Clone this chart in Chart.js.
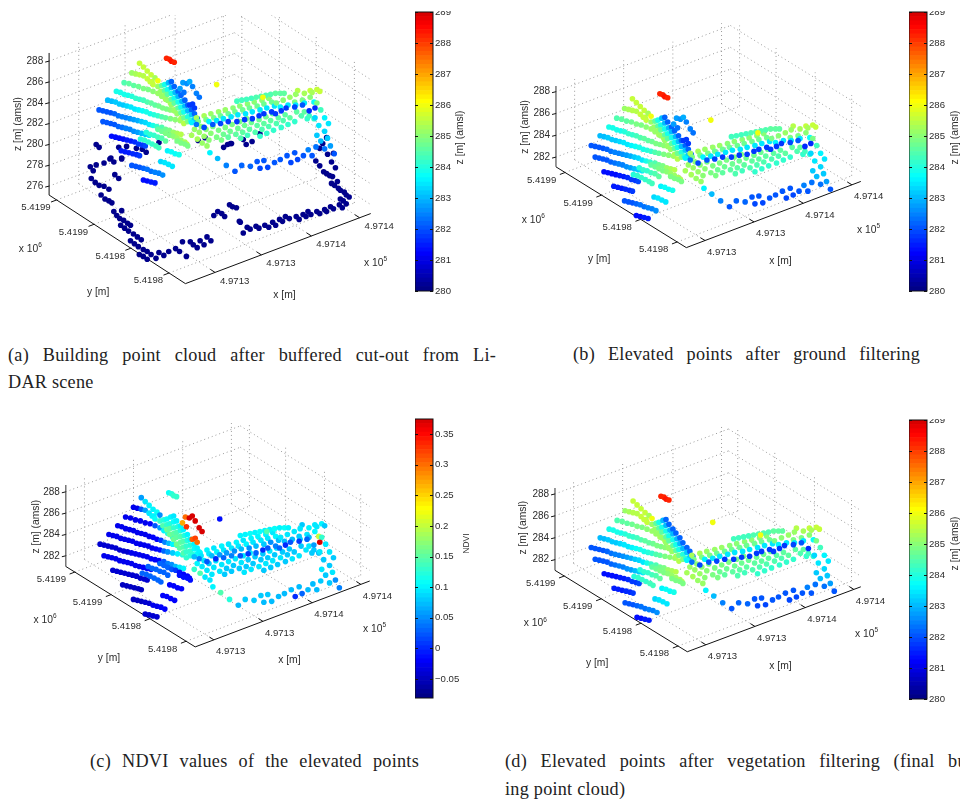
<!DOCTYPE html>
<html>
<head>
<meta charset="utf-8">
<script src="https://cdn.jsdelivr.net/npm/chart.js@4"></script>
<style>
  html, body { margin: 0; padding: 0; background: #fff; overflow: hidden; width: 960px; height: 802px; }
  .box { position: absolute; overflow: hidden; }
  canvas { position: absolute; display: block; }
  .cap { position: absolute; font: 18.2px/20px "Liberation Serif", "Times New Roman", serif; letter-spacing: 0.25px; color: #222; white-space: nowrap; }
  .just { white-space: normal; text-align: justify; text-align-last: justify; }
</style>
</head>
<body>
<div class="cap just" style="left:8px;top:345px;width:488px">(a) Building point cloud after buffered cut-out from Li-</div>
<div class="cap" style="left:8px;top:372px">DAR scene</div>
<div class="cap just" style="left:573px;top:344px;width:347px">(b) Elevated points after ground filtering</div>
<div class="cap just" style="left:90px;top:751px;width:329px">(c) NDVI values of the elevated points</div>
<div class="cap just" style="left:505px;top:751px;width:488px">(d) Elevated points after vegetation filtering (final build-</div>
<div class="cap" style="left:505px;top:779px">ing point cloud)</div>
<script>
// point cloud, one line per roof strip
// cloudX / cloudY are positions on the view plane, cloudZ height in m, cloudNdvi the NDVI value
const cloudX = [
  631,635,639,643,647,650,644,
  623,627,631,635,639,642,645,
  615,620,625,630,635,640,645,650,654,658,663,
  607,611,615,619,623,627,631,635,639,643,647,651,655,659,663,667,
  598,602,606,610,614,618,622,626,630,634,638,642,646,650,654,658,663,668,673,
  589,593,597,601,605,609,613,617,621,625,629,633,637,641,645,649,654,658,662,666,670,674,
  593,597,601,605,609,613,617,621,625,629,633,637,641,
  650,654,658,662,666,670,674,678,680,
  638,642,646,650,654,658,
  670,674,678,681,
  602,606,610,614,618,622,626,630,634,637,
  632,636,640,644,648,651,
  612,616,620,624,628,631,
  660,664,668,672,
  623,627,631,635,639,643,647,651,655,
  653,657,661,665,
  635,639,643,647,
  659,662,664,667,
  711,
  650,654,657,661,664, 653,657,660,664,667, 657,660,664,668,671,
  660,664,667,671,674, 664,667,671,675,678, 667,671,674,678,681,
  670,674,677,681,685, 674,677,681,685,688, 677,681,684,688,691,
  685,691,696,701, 688,693,698,703, 695,700,705,711,716, 707,713,718,723,
  720,725,731,736, 727,733,738,743, 735,740,745,751,756, 742,747,753,758,763,
  755,760,765,770, 762,767,773,778, 769,775,780,785, 782,787,792, 794,799,805, 802,807,812,
  690,698,705,713,720,728,735,743,750,758,765,
  692,700,708,715,723,730,738,745,753,760,768,
  685,703,711,718,726,733,741,748,756,763,771,
  795,808,815,818, 787,793,802,810, 773,780,792,800,808, 777,785,793,802,812,
  732,737,742,747,752,757,762,767,772,777,781,759,
  690,698,707,715,723,732,740,748,755,760,768,772,778,783,792,800,807,
  815,819,823,827,813,817,823,815,819,826,829,806,814,823,833,792,784,801,810,795,788,777,771,760,753,764,756,746,737,730,721,712,704
];
const cloudY = [
  97,101,105,109,112,115,116,
  107,108,109,110,113,116,119,
  117,118,120,121,123,124,126,128,131,134,138,
  126,127,129,130,131,133,134,135,137,138,140,141,143,144,145,146,
  135,136,137,139,140,141,142,144,145,146,147,149,150,151,152,153,154,155,156,
  145,146,147,148,149,151,152,153,154,155,156,157,158,160,161,162,163,165,166,168,169,170,
  157,158,159,160,162,163,164,165,167,168,169,170,171,
  165,167,169,171,172,174,176,178,180,
  168,170,171,173,174,177,
  177,179,180,182,
  172,173,174,175,176,177,178,180,181,182,
  175,176,178,180,182,184,
  187,188,189,190,191,192,
  187,188,190,191,
  202,203,204,205,206,208,209,210,212,
  198,199,201,203,
  217,218,219,220,
  92,93,95,96,
  119,
  121,120,119,117,116, 126,125,124,122,121, 130,129,128,127,126,
  135,134,133,131,130, 140,138,137,136,135, 145,143,142,141,140,
  149,148,147,146,145, 154,153,152,150,149, 159,157,156,155,154,
  171,175,179,182, 165,168,172,176, 162,165,169,173,176, 162,166,170,173,
  163,167,170,174, 160,164,168,171, 157,161,165,168,172, 154,158,161,165,169,
  155,159,162,166, 152,156,159,163, 149,153,156,160, 150,153,157, 147,151,154, 147,151,154,
  153,151,149,147,145,143,141,139,137,135,133,
  157,155,153,151,149,147,145,143,141,139,137,
  158,157,156,154,152,150,149,147,145,143,141,
  125,125,124,126, 132,129,128,127, 138,135,137,135,132, 142,140,140,138,137,
  136,135,134,133,132,131,130,129,128,128,128,132,
  160,163,160,159,157,157,155,154,151,149,147,149,146,143,142,140,146,
  138,145,153,159,153,161,167,171,177,174,182,186,183,185,190,189,192,192,192,196,199,196,199,197,198,204,205,203,202,208,202,195,189
];
const cloudZ = [
  285.5,285.5,285.6,285.6,285.3,286.0,285.4,
  285.2,285.3,285.4,285.4,285.5,285.5,285.5,
  284.4,284.5,284.6,284.7,284.8,284.9,285.0,285.1,285.2,285.3,285.4,
  283.8,283.8,283.9,283.9,284.0,284.1,284.2,284.3,284.4,284.5,284.6,284.7,284.8,284.9,285.0,285.1,
  283.0,283.0,283.1,283.1,283.2,283.3,283.4,283.5,283.6,283.7,283.8,283.9,284.0,284.2,284.4,284.6,284.8,285.0,285.1,
  282.0,282.0,282.1,282.1,282.2,282.3,282.4,282.5,282.6,282.8,282.9,283.1,283.3,283.5,283.8,284.1,284.4,284.7,284.9,285.1,285.3,285.4,
  282.0,282.0,282.1,282.1,282.2,282.3,282.4,282.5,282.6,282.8,283.0,283.2,283.4,
  284.6,284.7,284.8,284.9,285.0,285.1,285.2,285.3,285.4,
  284.0,284.1,284.2,284.3,284.4,284.5,
  284.8,284.8,284.9,284.9,
  281.3,281.3,281.4,281.4,281.5,281.5,281.6,281.7,281.8,281.9,
  284.0,284.1,284.2,284.2,284.3,284.3,
  281.5,281.5,281.5,281.6,281.6,281.7,
  283.6,283.7,283.7,283.8,
  282.0,282.0,282.1,282.2,282.3,282.3,282.4,282.5,282.6,
  283.3,283.4,283.4,283.5,
  281.4,281.4,281.5,281.5,
  288.2,288.2,288.3,288.2,
  286.0,
  285.2,284.6,283.9,283.0,282.2, 285.2,284.6,283.9,283.0,282.2, 285.2,284.6,283.9,283.0,282.2,
  285.2,284.6,283.9,283.0,282.2, 285.2,284.6,283.9,283.0,282.2, 285.2,284.6,283.9,283.0,282.2,
  285.2,284.6,283.9,283.0,282.2, 285.3,284.7,284.0,283.1,282.2, 285.4,284.8,284.1,283.2,282.3,
  285.3,285.3,285.2,285.2, 285.2,285.1,285.1,285.0, 285.0,285.0,285.0,284.9,284.8, 284.9,284.8,284.7,284.6,
  284.8,284.7,284.6,284.4, 284.8,284.7,284.5,284.3, 284.8,284.7,284.6,284.4,284.2, 284.8,284.7,284.6,284.4,284.2,
  284.7,284.6,284.4,284.2, 284.7,284.6,284.4,284.2, 284.7,284.6,284.4,284.2, 284.6,284.5,284.2, 284.6,284.4,284.2, 284.5,284.3,284.1,
  285.3,285.3,285.2,285.1,285.1,285.0,285.0,285.0,285.0,285.0,285.0,
  284.8,284.8,284.8,284.7,284.7,284.7,284.7,284.7,284.7,284.7,284.7,
  283.6,283.6,283.5,283.5,283.4,283.4,283.4,283.4,283.5,283.5,283.5,
  285.4,285.5,285.5,285.5, 285.2,285.2,285.3,285.3, 284.9,285.0,284.8,284.9,285.0, 283.6,283.5,283.4,283.5,283.7,
  284.3,284.3,284.3,284.3,284.4,284.4,284.4,284.4,284.5,284.5,284.5,286.0,
  282.3,281.9,282.0,281.9,281.8,281.8,281.8,281.7,281.8,281.7,281.8,281.7,281.8,281.8,281.9,282.0,281.6,
  284.8,284.3,283.6,283.5,283.3,283.4,283.3,283.1,283.0,283.2,282.8,282.4,282.3,282.3,282.0,282.1,282.0,282.1,282.1,281.9,281.9,282.0,282.0,282.0,282.0,281.9,281.9,282.2,282.2,282.1,282.5,283.0,283.6
];
const cloudNdvi = [
  0.06,0.09,0.10,0.10,0.11,0.05,0.10,
  -0.03,-0.03,0.02,0.06,0.09,0.10,0.11,
  -0.03,-0.03,-0.03,-0.03,-0.03,-0.02,0.02,0.06,0.10,0.12,0.13,
  -0.03,-0.03,-0.03,-0.03,-0.03,-0.03,-0.03,-0.03,-0.03,-0.02,-0.02,0.01,0.04,0.07,0.10,0.12,
  -0.03,-0.03,-0.03,-0.03,-0.03,-0.03,-0.03,-0.03,-0.03,-0.03,-0.03,-0.03,-0.02,-0.01,0.03,0.05,0.08,0.10,0.12,
  -0.04,-0.04,-0.04,-0.04,-0.04,-0.04,-0.04,-0.04,-0.03,-0.03,-0.03,-0.03,-0.03,-0.02,-0.02,-0.02,0.02,0.04,0.05,0.07,0.09,0.10,
  -0.03,-0.03,-0.03,-0.03,-0.03,-0.03,-0.03,-0.03,-0.03,-0.03,-0.02,-0.02,-0.02,
  0.03,0.03,0.03,0.02,0.01,-0.01,-0.02,-0.02,-0.02,
  0.03,0.03,0.03,0.03,0.03,0.03,
  -0.01,-0.01,-0.01,-0.01,
  -0.04,-0.04,-0.04,-0.04,-0.04,-0.04,-0.04,-0.04,-0.04,-0.04,
  0.03,0.03,0.03,0.03,0.03,0.03,
  -0.05,-0.05,-0.05,-0.05,-0.05,-0.05,
  -0.02,-0.02,-0.02,-0.02,
  -0.05,-0.05,-0.05,-0.04,-0.04,-0.03,-0.03,-0.02,-0.02,
  -0.02,-0.02,-0.02,-0.02,
  -0.04,-0.04,-0.04,-0.04,
  0.11,0.12,0.13,0.13,
  -0.01,
  0.13,0.12,0.11,0.10,0.09, 0.14,0.13,0.12,0.11,0.10, 0.16,0.15,0.13,0.12,0.10,
  0.16,0.15,0.14,0.12,0.10, 0.16,0.15,0.14,0.12,0.10, 0.16,0.15,0.14,0.12,0.10,
  0.15,0.14,0.13,0.12,0.10, 0.14,0.13,0.13,0.11,0.10, 0.13,0.12,0.12,0.11,0.10,
  0.13,0.14,0.09,0.09, 0.10,0.09,0.09,0.09, 0.09,0.08,0.09,0.09,0.08, 0.09,0.09,0.08,0.08,
  0.09,0.08,0.08,0.09, 0.09,0.09,0.08,0.09, 0.09,0.08,0.08,0.09,0.08, 0.09,0.08,0.08,0.09,0.08,
  0.08,0.08,0.09,0.08, 0.09,0.08,0.09,0.08, 0.09,0.08,0.08,0.09, 0.08,0.08,0.09, 0.08,0.09,0.08, 0.09,0.08,0.07,
  0.10,0.10,0.09,0.10,0.09,0.10,0.09,0.10,0.10,0.10,0.09,
  0.09,0.09,0.10,0.09,0.09,0.09,0.10,0.09,0.09,0.09,0.10,
  0.07,0.07,0.06,0.06,0.05,0.07,0.05,0.07,0.08,0.05,0.07,
  0.08,0.09,0.10,0.08, 0.09,0.09,0.10,0.09, 0.09,0.09,0.08,0.09,0.10, 0.07,0.07,0.08,0.07,0.20,
  0.10,0.10,0.11,0.10,0.11,0.10,0.10,0.11,0.10,0.11,0.10,0.14,
  0.04,0.02,0.00,0.03,0.04,0.02,0.01,0.03,0.00,0.02,0.04,0.03,0.00,0.02,0.01,0.03,0.06,
  0.13,0.09,0.09,0.08,0.09,0.08,0.08,0.09,0.08,0.09,0.05,0.07,0.08,0.08,0.04,0.07,0.07,0.07,0.07,0.03,0.00,0.07,0.07,0.08,0.08,0.07,0.07,0.08,0.08,0.07,0.12,0.14,0.10
];

// points taken out by the vegetation filter, not shown in (d)
const vegX = [676,680,683,686,690,693,673,677,683,686,688,813];
const vegY = [117,118,116,121,128,132,123,127,140,139,143,143];
const vegZ = [282.8,282.6,282.9,282.5,282.4,282.3,282.7,282.3,281.8,281.8,281.7,281.6];
const vegNdvi = [0.30,0.37,0.37,0.37,0.37,0.37,0.27,0.33,0.31,0.32,0.30,0.37];

// ground points, only in (a), dark blue, z about 280
const groundX = [88,91,94,102,108,112,120,113,117,89,93,97,102,107,99,103,107,110,112,115,120,118,122,126,129,119,123,127,132,136,140,129,133,137,142,146,150,155,138,142,146,158,163,168,175,179,186,182,190,193,197,200,204,207,211,230,233,237,218,214,222,225,240,241,248,251,244,257,260,266,270,274,277,281,284,287,291,298,301,305,308,310,313,319,322,327,329,333,336,342,345,343,346,349,334,337,340,341,343,347,349,352,326,329,332,335,318,322,330,334,338,253,247,261,244,231,336,329,325,322,94,97,117,125,135,141,145,109,120,158,167,198,205,224,228,232];
const groundY = [167,171,165,163,159,162,159,175,179,179,183,186,187,190,196,200,202,204,213,217,212,220,222,225,227,227,230,233,236,239,242,243,246,249,252,254,257,261,257,259,262,255,258,254,251,254,259,244,244,247,250,243,247,239,243,206,208,209,213,217,215,218,223,224,229,231,235,228,230,227,229,224,227,221,223,218,220,218,221,216,218,213,216,213,215,211,213,208,210,206,209,200,202,205,184,186,182,189,191,193,196,198,172,174,176,177,161,166,154,162,168,141,144,133,139,143,153,137,143,148,144,147,147,146,148,149,152,158,158,142,132,140,137,147,144,143];

// tick labels and colorbar ticks
const xTickLabels = ['4.9713', '4.9713', '4.9714', '4.9714'];
const yTickLabels = ['5.4199', '5.4199', '5.4198', '5.4198'];
const zTicksFull = [276, 278, 280, 282, 284, 286, 288];
const zTicksElevated = [282, 284, 286, 288];
const heightBarTicks = [280, 281, 282, 283, 284, 285, 286, 287, 288, 289];
const ndviBarTicks = [-0.05, 0, 0.05, 0.1, 0.15, 0.2, 0.25, 0.3, 0.35];

const HEIGHT_RANGE = [280, 289];
const NDVI_RANGE = [-0.081, 0.3745];
const LEVELS = 64;

function jet(frac) {
  // the bar stops before the dark end of the map
  const t = Math.max(0, Math.min(1, frac)) * 0.92;
  const ramp = c => Math.round(255 * Math.max(0, Math.min(1, 1.5 - Math.abs(4 * t - c))));
  return `rgb(${ramp(3)},${ramp(2)},${ramp(1)})`;
}
function level(v, range) {
  const f = (v - range[0]) / (range[1] - range[0]);
  return jet((Math.floor(f * LEVELS) + 0.5) / LEVELS);
}
function toPoints(xs, ys) {
  return xs.map((x, i) => ({ x: x, y: ys[i] }));
}

// dotted box lines and solid axes of one panel, in the panel's frame units
function buildFrame(p) {
  const grid = [], axes = [];
  const dx = [p.R[0] - p.B[0], p.R[1] - p.B[1]];   // along x axis
  const dy = [p.B[0] - p.L[0], p.B[1] - p.L[1]];   // along y axis
  const back = [p.L[0] + dx[0], p.L[1] + dx[1]];
  const h = p.L[1] - p.zTop;
  const seg = (arr, a, b) => arr.push({ x: a[0], y: a[1] }, { x: b[0], y: b[1] }, { x: NaN, y: NaN });

  p.xFrac.forEach(t => {
    const a = [p.L[0] + dx[0] * t, p.L[1] + dx[1] * t];
    seg(grid, a, [a[0], a[1] - h]);
    seg(grid, a, [a[0] + dy[0], a[1] + dy[1]]);
    const tick = [p.B[0] + dx[0] * t, p.B[1] + dx[1] * t];
    seg(axes, tick, [tick[0] - dy[0] * 0.035, tick[1] - dy[1] * 0.035]);
  });
  p.yFrac.forEach(t => {
    const a = [back[0] + dy[0] * t, back[1] + dy[1] * t];
    seg(grid, a, [a[0], a[1] - h]);
    const l = [p.L[0] + dy[0] * t, p.L[1] + dy[1] * t];
    seg(grid, l, [l[0] + dx[0], l[1] + dx[1]]);
    seg(axes, l, [l[0] - dx[0] * 0.03, l[1] - dx[1] * 0.03]);
  });
  p.zTicks.forEach(z => {
    const y = p.zY(z);
    const mid = [back[0], y - p.L[1] + back[1]];
    seg(grid, [p.L[0], y], mid);
    seg(grid, mid, [mid[0] + dy[0], mid[1] + dy[1]]);
    seg(axes, [p.L[0], y], [p.L[0] - 4, y + 1]);
  });
  seg(axes, p.L, p.B);
  seg(axes, p.B, p.R);
  return { grid, axes };
}

function drawPanelText(chart, p) {
  const ctx = chart.ctx;
  const fx = chart.scales.fx, fy = chart.scales.fy;
  const dx = [p.R[0] - p.B[0], p.R[1] - p.B[1]];
  const dy = [p.B[0] - p.L[0], p.B[1] - p.L[1]];
  const text = (s, x, y, align, size) => {
    ctx.font = (size || 9.6) + 'px "Liberation Sans", Arial, sans-serif';
    ctx.textAlign = align || 'center';
    ctx.fillText(s, fx.getPixelForValue(x), fy.getPixelForValue(y));
  };
  ctx.save();
  ctx.fillStyle = '#2c2c2c';
  ctx.textBaseline = 'middle';
  p.zTicks.forEach(z => text(String(z), p.L[0] - 6, p.zY(z), 'right', 10));
  p.yFrac.forEach((t, i) => text(yTickLabels[i], p.L[0] + dy[0] * t + p.yOff[0], p.L[1] + dy[1] * t + p.yOff[1]));
  p.xFrac.forEach((t, i) => text(xTickLabels[i], p.B[0] + dx[0] * t + p.xOff[0], p.B[1] + dx[1] * t + p.xOff[1]));
  text('y [m]', p.yName[0], p.yName[1], 'center', 10.3);
  text('x [m]', p.xName[0], p.xName[1], 'center', 10.3);
  text('x 10', p.yExp[0], p.yExp[1], 'center', 10.3);
  text('6', p.yExp[0] + 10, p.yExp[1] - 4, 'left', 6.5);
  text('x 10', p.xExp[0], p.xExp[1], 'center', 10.3);
  text('5', p.xExp[0] + 10, p.xExp[1] - 4, 'left', 6.5);
  ctx.translate(fx.getPixelForValue(p.zName[0]), fy.getPixelForValue(p.zName[1]));
  ctx.rotate(-Math.PI / 2);
  ctx.textAlign = 'center';
  ctx.font = '10.3px "Liberation Sans", Arial, sans-serif';
  ctx.fillText('z [m] (amsl)', 0, 0);
  ctx.restore();
}

function makePanel(p) {
  const box = document.createElement('div');
  box.className = 'box';
  box.style.cssText = `left:${p.left}px;top:${p.top}px;width:${p.w}px;height:${p.h}px`;
  const canvas = document.createElement('canvas');
  canvas.width = p.w;
  canvas.height = p.h;
  box.appendChild(canvas);
  document.body.appendChild(box);

  const frame = buildFrame(p);
  const colorFor = p.useNdvi
    ? (vals) => vals.map(v => level(v, NDVI_RANGE))
    : (vals) => vals.map(v => level(v, HEIGHT_RANGE));
  const mark = { showLine: false, pointRadius: 2.8, pointBorderWidth: 0, xAxisID: 'x', yAxisID: 'y' };
  const datasets = [];
  if (p.showVeg) {
    datasets.push(Object.assign({}, mark, { data: toPoints(vegX, vegY), pointBackgroundColor: colorFor(p.useNdvi ? vegNdvi : vegZ) }));
  }
  datasets.push(Object.assign({}, mark, { data: toPoints(cloudX, cloudY), pointBackgroundColor: colorFor(p.useNdvi ? cloudNdvi : cloudZ) }));
  if (p.showGround) {
    datasets.push(Object.assign({}, mark, { data: toPoints(groundX, groundY), pointBackgroundColor: '#00008c', xAxisID: 'fx', yAxisID: 'fy' }));
  }
  datasets.push({ data: frame.axes, showLine: true, pointRadius: 0, borderColor: '#111', borderWidth: 1, xAxisID: 'fx', yAxisID: 'fy' });
  datasets.push({
    data: [{ x: p.L[0], y: p.L[1] }, { x: p.L[0], y: p.zTop }],
    showLine: true, pointRadius: 0, borderColor: p.zAxisColor, borderWidth: p.zAxisWidth, xAxisID: 'fx', yAxisID: 'fy'
  });
  datasets.push({ data: frame.grid, showLine: true, pointRadius: 0, borderColor: '#9a9a9a', borderWidth: 1, borderDash: [1, 3], xAxisID: 'fx', yAxisID: 'fy' });

  new Chart(canvas, {
    type: 'scatter',
    data: { datasets },
    options: {
      responsive: false,
      animation: false,
      layout: { padding: 0 },
      plugins: { legend: { display: false }, tooltip: { enabled: false } },
      scales: {
        x: { display: false, min: p.viewX[0], max: p.viewX[1] },
        y: { display: false, min: p.viewY[0], max: p.viewY[1], reverse: true },
        fx: { display: false, axis: 'x', min: p.left, max: p.left + p.w },
        fy: { display: false, axis: 'y', min: p.top, max: p.top + p.h, reverse: true }
      }
    },
    plugins: [{ id: 'panelText', afterDraw: chart => drawPanelText(chart, p) }]
  });
}

function makeColorBar(b) {
  const box = document.createElement('div');
  box.className = 'box';
  box.style.cssText = `left:${b.left}px;top:${b.top - 1}px;width:${80}px;height:${b.bottom - b.top + 14}px`;
  const canvas = document.createElement('canvas');
  const padY = 10;
  canvas.width = 80;
  canvas.height = b.bottom - b.top + padY * 2;
  canvas.style.top = (1 - padY) + 'px';
  box.appendChild(canvas);
  document.body.appendChild(box);

  const step = (b.range[1] - b.range[0]) / LEVELS;
  const datasets = [];
  for (let i = 0; i < LEVELS; i++) {
    datasets.push({
      data: [[b.range[0] + i * step, b.range[0] + (i + 1) * step]],
      backgroundColor: jet((i + 0.5) / LEVELS),
      borderWidth: 0, barPercentage: 1, categoryPercentage: 1
    });
  }
  new Chart(canvas, {
    type: 'bar',
    data: { labels: [''], datasets },
    options: {
      responsive: false,
      animation: false,
      layout: { padding: { top: padY, bottom: padY, left: 0, right: 0 } },
      plugins: { legend: { display: false }, tooltip: { enabled: false } },
      scales: {
        x: { display: false, stacked: true },
        y: {
          position: 'right',
          min: b.range[0],
          max: b.range[1],
          afterBuildTicks: scale => { scale.ticks = b.ticks.map(v => ({ value: v })); },
          afterFit: scale => { scale.width = 62; },
          grid: { display: false, drawTicks: false },
          border: { display: false },
          ticks: {
            padding: 2,
            autoSkip: false,
            color: '#2c2c2c',
            font: { family: '"Liberation Sans", Arial, sans-serif', size: 9.6 },
            callback: v => String(v).replace('-', '\u2212')
          }
        }
      }
    },
    plugins: [{
      id: 'barFrame',
      afterDraw(chart) {
        const a = chart.chartArea, ctx = chart.ctx, sc = chart.scales.y;
        ctx.save();
        ctx.strokeStyle = '#111';
        ctx.lineWidth = 1;
        ctx.strokeRect(a.left, a.top, a.right - a.left, a.bottom - a.top);
        b.ticks.forEach(v => {
          const y = Math.round(sc.getPixelForValue(v)) + 0.5;
          ctx.beginPath();
          ctx.moveTo(a.left, y); ctx.lineTo(a.left + 3, y);
          ctx.moveTo(a.right - 3, y); ctx.lineTo(a.right, y);
          ctx.stroke();
        });
        ctx.fillStyle = '#2c2c2c';
        ctx.textAlign = 'center';
        ctx.textBaseline = 'middle';
        ctx.font = b.titleSize + 'px "Liberation Sans", Arial, sans-serif';
        ctx.translate(a.left + b.titleX, (a.top + a.bottom) / 2 + b.titleDy);
        ctx.rotate(-Math.PI / 2);
        ctx.fillText(b.title, 0, 0);
        ctx.restore();
      }
    }]
  });
}

makePanel({
  left: 0, top: 11, w: 412, h: 300, viewX: [490.4, 909.5], viewY: [47.5, 347.5],
  showVeg: true, showGround: true, useNdvi: false,
  L: [46, 196], B: [185, 287], R: [374, 215], zTop: 50,
  zY: z => 144 - 10.7 * (z - 280), zTicks: zTicksFull,
  xFrac: [0.16, 0.41, 0.68, 0.94], yFrac: [0.055, 0.33, 0.60, 0.88],
  xOff: [20, 9], yOff: [-21, 8],
  yName: [96, 296], xName: [286, 299], yExp: [25, 252], xExp: [377, 266], zName: [14, 123],
  zAxisColor: '#111', zAxisWidth: 1
});
makePanel({
  left: 500, top: 11, w: 405, h: 300, viewX: [500, 905], viewY: [11, 311],
  showVeg: true, showGround: false, useNdvi: false,
  L: [553, 167], B: [686, 250], R: [864, 182], zTop: 84,
  zY: z => 157 - 11.2 * (z - 282), zTicks: zTicksElevated,
  xFrac: [0.107, 0.388, 0.67, 0.949], yFrac: [0.07, 0.35, 0.65, 0.93],
  xOff: [17, 12], yOff: [-24, 8],
  yName: [597, 262], xName: [782, 264], yExp: [528, 222], xExp: [870, 232], zName: [522, 126],
  zAxisColor: '#777', zAxisWidth: 1.5
});
makePanel({
  left: 0, top: 419, w: 412, h: 260, viewX: [491, 903], viewY: [20, 280],
  showVeg: true, showGround: false, useNdvi: true,
  L: [63, 567], B: [195, 650], R: [373, 582], zTop: 483,
  zY: z => 556 - 11 * (z - 282), zTicks: zTicksElevated,
  xFrac: [0.107, 0.388, 0.67, 0.949], yFrac: [0.07, 0.35, 0.65, 0.93],
  xOff: [17, 12], yOff: [-24, 8],
  yName: [107, 662], xName: [291, 664], yExp: [40, 622], xExp: [376, 632], zName: [33, 526],
  zAxisColor: '#777', zAxisWidth: 1.5
});
makePanel({
  left: 500, top: 419, w: 405, h: 260, viewX: [501.4, 900], viewY: [16.5, 276.5],
  showVeg: false, showGround: false, useNdvi: false,
  L: [552, 571], B: [687, 655], R: [864, 588], zTop: 486,
  zY: z => 560 - 11.3 * (z - 282), zTicks: zTicksElevated,
  xFrac: [0.107, 0.39, 0.68, 0.96], yFrac: [0.07, 0.35, 0.65, 0.93],
  xOff: [17, 12], yOff: [-24, 8],
  yName: [595, 667], xName: [782, 670], yExp: [530, 626], xExp: [868, 637], zName: [520, 527],
  zAxisColor: '#777', zAxisWidth: 1.5
});

makeColorBar({ left: 415, top: 12, bottom: 291, range: HEIGHT_RANGE, ticks: heightBarTicks, title: 'z [m] (amsl)', titleX: 45, titleDy: -14, titleSize: 10.3 });
makeColorBar({ left: 909, top: 12, bottom: 291, range: HEIGHT_RANGE, ticks: heightBarTicks, title: 'z [m] (amsl)', titleX: 46, titleDy: -14, titleSize: 10.3 });
makeColorBar({ left: 415, top: 419, bottom: 698, range: NDVI_RANGE, ticks: ndviBarTicks, title: 'NDVI', titleX: 52, titleDy: -15, titleSize: 8.4 });
makeColorBar({ left: 909, top: 420, bottom: 699, range: HEIGHT_RANGE, ticks: heightBarTicks, title: 'z [m] (amsl)', titleX: 46, titleDy: -16, titleSize: 10.3 });
</script>
</body>
</html>
